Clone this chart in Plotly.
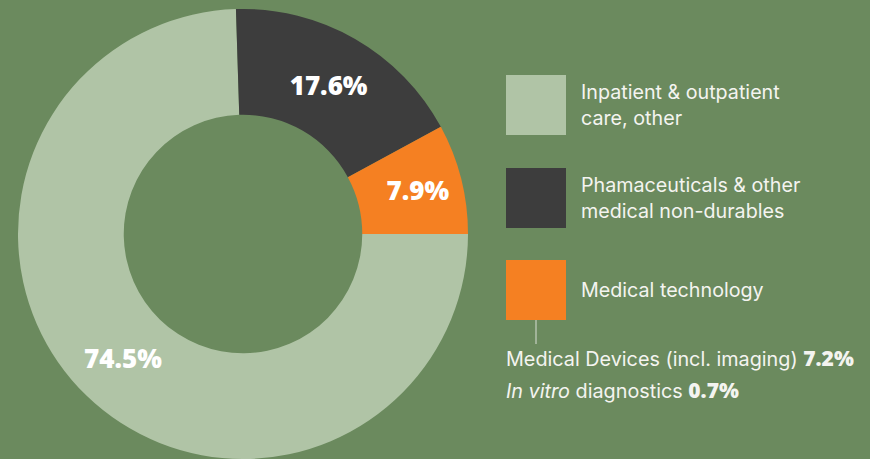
import plotly.graph_objects as go

# ---- data ----
categories = ["Inpatient & outpatient care, other",
              "Phamaceuticals & other medical non-durables",
              "Medical technology"]
shares = [74.5, 17.6, 7.9]
colors = ["#B0C4A6", "#3D3D3D", "#F58022"]

legend_labels = ["Inpatient & outpatient<br>care, other",
                 "Phamaceuticals & other<br>medical non-durables",
                 "Medical technology"]
legend_colors = ["#B0C4A6", "#3D3D3D", "#F58022"]

sub_labels = ["Medical Devices (incl. imaging)", "<i>In vitro</i> diagnostics"]
sub_values = [7.2, 0.7]

W, H = 870, 459
BG = "#6B8A5E"
TXT = "#F4F4F0"


def px(x):
    return x / W


def py(y):
    return 1 - y / H


fig = go.Figure()
fig.add_trace(go.Pie(
    labels=categories,
    values=shares,
    marker=dict(colors=colors, line=dict(width=0)),
    hole=0.53,
    sort=False,
    direction="clockwise",
    rotation=90,
    texttemplate="%{value:.1f}%",
    textposition="inside",
    insidetextorientation="horizontal",
    textfont=dict(family="Open Sans", size=26, color="white", weight=800),
    hoverinfo="none",
    showlegend=False,
    domain=dict(x=[px(17), px(469)], y=[0, py(9)]),
))

shapes = []
annotations = []
sq_tops = [75, 168, 260]
for lab, col, top in zip(legend_labels, legend_colors, sq_tops):
    shapes.append(dict(type="rect", xref="paper", yref="paper",
                       x0=px(506), x1=px(566), y0=py(top + 60), y1=py(top),
                       fillcolor=col, line=dict(width=0)))
    annotations.append(dict(xref="paper", yref="paper", x=px(579), y=py(top + 30),
                            xanchor="left", yanchor="middle", align="left",
                            text=lab, showarrow=False,
                            font=dict(family="Inter", size=19.7, color=TXT)))

shapes.append(dict(type="line", xref="paper", yref="paper",
                   x0=px(536), x1=px(536), y0=py(320), y1=py(344),
                   line=dict(color="#D8DED4", width=1)))

for lab, val, yc in zip(sub_labels, sub_values, [358, 390]):
    annotations.append(dict(
        xref="paper", yref="paper", x=px(504), y=py(yc),
        xanchor="left", yanchor="middle", align="left", showarrow=False,
        text=(f"{lab} <span style='font-family:Open Sans;font-weight:800;"
              f"font-size:21px'>{val:.1f}%</span>"),
        font=dict(family="Inter", size=19.8, color=TXT)))

fig.update_layout(
    width=W, height=H,
    margin=dict(l=0, r=0, t=0, b=0),
    paper_bgcolor=BG, plot_bgcolor=BG,
    shapes=shapes, annotations=annotations,
)

fig.write_html(
    "out.html",
    config={"displayModeBar": False},
    post_script="document.body.style.margin='0';"
                "document.body.style.overflow='hidden';"
                f"document.body.style.background='{BG}';",
)
